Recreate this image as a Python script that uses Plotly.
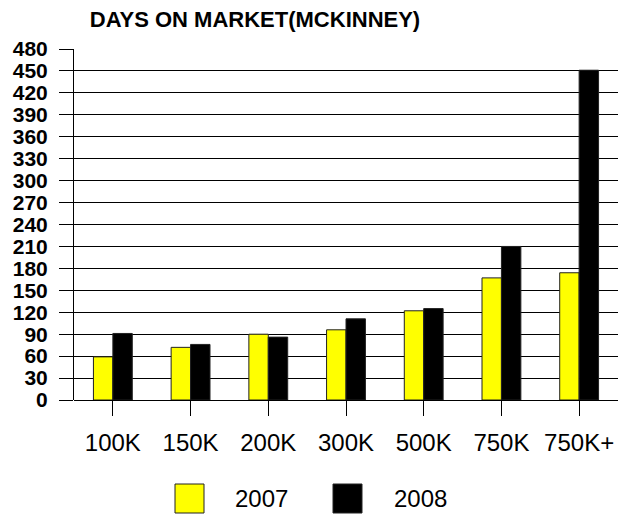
import plotly.graph_objects as go

# Days on market by price band, McKinney
price_bands = ["100K", "150K", "200K", "300K", "500K", "750K", "750K+"]
days_2007 = [59, 72, 90, 96, 122, 167, 174]
days_2008 = [91, 76, 86, 111, 125, 210, 451]
y_ticks = list(range(0, 481, 30))

W, H = 618, 516
ML, MR, MT, MB = 74, 0, 49, 116
PW, PH = W - ML - MR, H - MT - MB

FONT = "Arial, Liberation Sans, sans-serif"


def px_x(x):
    return (x - ML) / PW


def px_y(y):
    return (H - MB - y) / PH


fig = go.Figure()
fig.add_trace(go.Bar(
    x=price_bands, y=days_2007, name="2007",
    marker=dict(color="#FFFF00", line=dict(color="#222222", width=1)),
))
fig.add_trace(go.Bar(
    x=price_bands, y=days_2008, name="2008",
    marker=dict(color="#000000", line=dict(color="#222222", width=1)),
))

# Legend swatches and labels drawn below the axis
legend_items = [("2007", "#FFFF00", 175, 233), ("2008", "#000000", 333, 392)]
for label, color, sx, tx in legend_items:
    fig.add_shape(type="rect", xref="paper", yref="paper",
                  x0=px_x(sx), x1=px_x(sx + 29), y0=px_y(484), y1=px_y(513),
                  fillcolor=color, line=dict(color="#222222", width=1))
    fig.add_annotation(text=label, xref="paper", yref="paper",
                       x=px_x(tx), y=px_y(499), xanchor="left", yanchor="middle",
                       showarrow=False, font=dict(family=FONT, size=24, color="#000"))

fig.update_layout(
    width=W, height=H,
    margin=dict(l=ML, r=MR, t=MT, b=MB, pad=0),
    paper_bgcolor="white", plot_bgcolor="white",
    barmode="group", bargap=0.5, bargroupgap=0,
    showlegend=False,
    title=dict(text="<b>DAYS ON MARKET(MCKINNEY)</b>", xref="container", yref="container",
               x=255 / W, y=1 - 19 / H, xanchor="center", yanchor="middle",
               font=dict(family=FONT, size=22, color="#000")),
    font=dict(family=FONT, color="#000"),
)
fig.update_xaxes(
    showgrid=False, showline=False, zeroline=False,
    ticks="outside", ticklen=15, tickcolor="#000", tickwidth=1,
    tickfont=dict(family=FONT, size=24, color="#000"),
    ticklabelstandoff=6,
)
fig.update_yaxes(
    range=[0, 480], tickvals=y_ticks,
    ticktext=[f"<b>{v}</b>" for v in y_ticks],
    showgrid=True, gridcolor="#000", gridwidth=1,
    showline=True, linecolor="#000", linewidth=1,
    zeroline=True, zerolinecolor="#000", zerolinewidth=1,
    ticks="outside", ticklen=14, tickcolor="#000", tickwidth=1,
    tickfont=dict(family=FONT, size=21, color="#000"),
    ticklabelstandoff=7,
)

fig.write_html("out.html")
